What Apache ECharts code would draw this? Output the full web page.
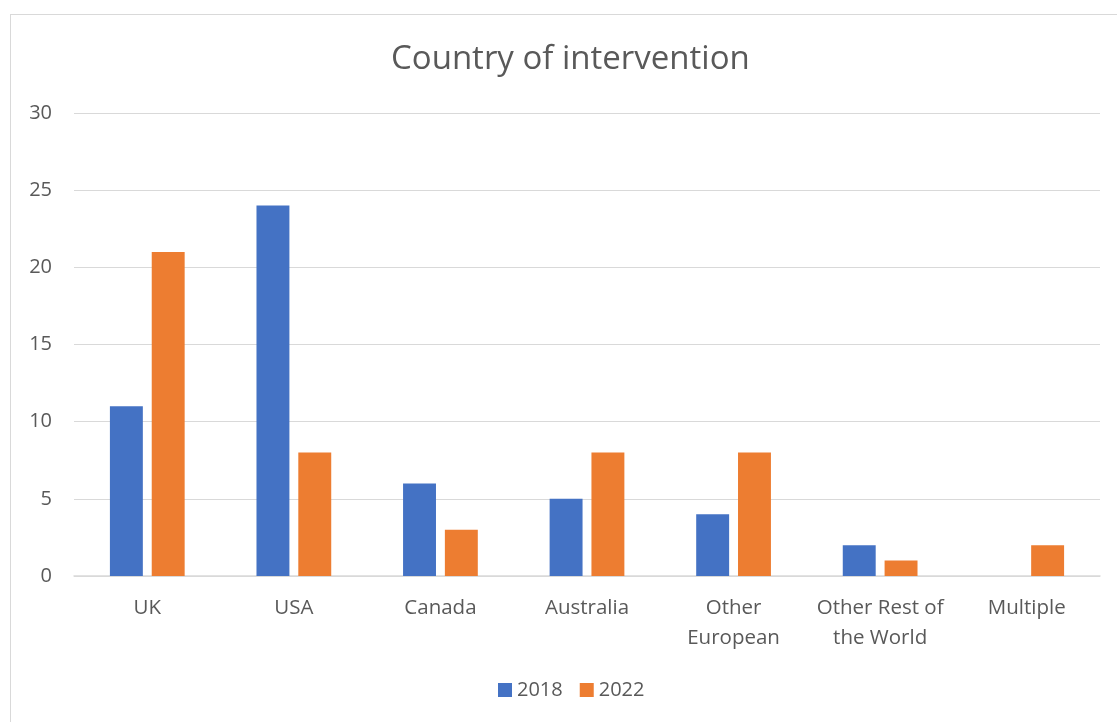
<!DOCTYPE html>
<html>
<head>
<meta charset="utf-8">
<script src="https://cdn.jsdelivr.net/npm/echarts@6/dist/echarts.min.js"></script>
<style>
html,body{margin:0;padding:0;background:#fff;overflow:hidden;}
#frame{position:absolute;left:10px;top:14px;width:1200px;height:800px;border:1.5px solid #d9d9d9;box-sizing:border-box;}
#chart{position:absolute;left:0;top:0;width:1117px;height:722px;}
</style>
</head>
<body>
<div id="frame"></div>
<div id="chart"></div>
<script>
var categories = ['UK', 'USA', 'Canada', 'Australia', 'Other\nEuropean', 'Other Rest of\nthe World', 'Multiple'];
var values2018 = [11, 24, 6, 5, 4, 2, null];
var values2022 = [21, 8, 3, 8, 8, 1, 2];
var seriesNames = ['2018', '2022'];

var chart = echarts.init(document.getElementById('chart'), null, {renderer: 'canvas'});
var font = '"Open Sans", sans-serif';
chart.setOption({
  animation: false,
  title: {
    text: 'Country of intervention',
    left: 391,
    top: 43,
    padding: 0,
    textStyle: {fontFamily: font, fontSize: 33, fontWeight: 'normal', color: '#595959'}
  },
  legend: {
    data: seriesNames,
    bottom: 17,
    left: 493,
    itemWidth: 14,
    itemHeight: 14,
    itemGap: 17,
    icon: 'rect',
    textStyle: {fontFamily: font, fontSize: 20, color: '#595959'}
  },
  grid: {left: 74, right: 17, top: 113, bottom: 146, containLabel: false},
  xAxis: {
    type: 'category',
    data: categories,
    axisLine: {show: true, lineStyle: {color: '#d9d9d9', width: 1.5}},
    axisTick: {show: false},
    axisLabel: {fontFamily: font, fontSize: 20.5, color: '#595959', margin: 17, lineHeight: 30, interval: 0}
  },
  yAxis: {
    type: 'value',
    min: 0,
    max: 30,
    interval: 5,
    axisLine: {show: false},
    axisTick: {show: false},
    splitLine: {lineStyle: {color: '#d9d9d9', width: 1.2}},
    axisLabel: {fontFamily: font, fontSize: 20, color: '#595959', margin: 22}
  },
  series: [
    {name: seriesNames[0], type: 'bar', data: values2018, barGap: '27%', barCategoryGap: '49%', itemStyle: {color: '#4472c4'}},
    {name: seriesNames[1], type: 'bar', data: values2022, itemStyle: {color: '#ed7d31'}}
  ]
});
</script>
</body>
</html>
